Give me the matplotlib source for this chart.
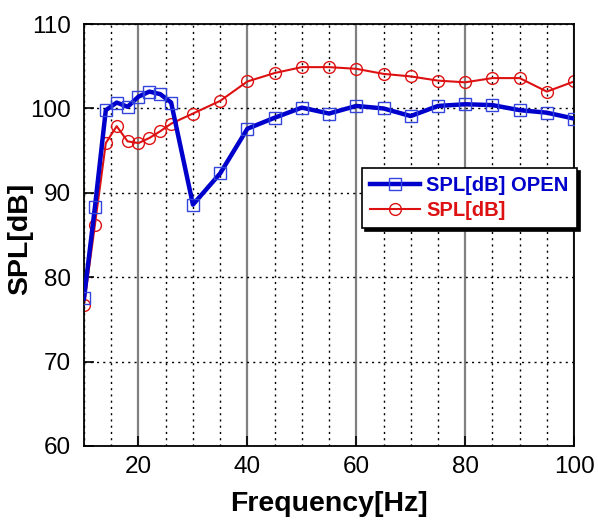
import matplotlib
matplotlib.use("Agg")
import matplotlib.pyplot as plt
from matplotlib.ticker import MultipleLocator

plt.rcParams['font.family'] = ['Liberation Sans', 'DejaVu Sans']

freq = [10, 12, 14, 16, 18, 20, 22, 24, 26, 30, 35, 40, 45, 50, 55, 60, 65, 70, 75, 80, 85, 90, 95, 100]
spl_open = [77.5, 88.3, 99.8, 100.7, 100.2, 101.4, 102.0, 101.7, 100.7, 88.6, 92.3, 97.6, 98.9, 100.1,
            99.4, 100.3, 100.0, 99.1, 100.3, 100.5, 100.4, 99.8, 99.5, 98.8]
spl = [76.7, 86.2, 95.9, 97.9, 96.1, 95.9, 96.5, 97.3, 98.2, 99.4, 100.9, 103.2, 104.2, 104.9,
       104.9, 104.7, 104.1, 103.8, 103.3, 103.1, 103.6, 103.6, 102.0, 103.2]
labels = ['SPL[dB] OPEN', 'SPL[dB]']
blue = '#0000cc'
red = '#dd1111'

fig = plt.figure(figsize=(5.98, 5.24), dpi=100)
ax = fig.add_axes([0.1405, 0.149, 0.8195, 0.805])

ax.set_xlim(10, 100)
ax.set_ylim(60, 110)
ax.xaxis.set_major_locator(MultipleLocator(20))
ax.xaxis.set_minor_locator(MultipleLocator(5))
ax.yaxis.set_major_locator(MultipleLocator(10))

ax.grid(which='major', axis='x', color='#808080', linestyle='-', linewidth=1.6)
ax.grid(which='minor', axis='x', color='black', linestyle=(0, (1.5, 3)), linewidth=1.0)
ax.grid(which='major', axis='y', color='black', linestyle=(0, (1.5, 3)), linewidth=1.0)
ax.set_axisbelow(True)

ax.plot(freq, spl_open, color=blue, linewidth=3.2, marker='s', markersize=8.5,
        markerfacecolor='none', markeredgecolor='#3344dd', markeredgewidth=1.0, label=labels[0], zorder=3)
ax.plot(freq, spl, color=red, linewidth=1.5, marker='o', markersize=8.5,
        markerfacecolor='none', markeredgecolor=red, markeredgewidth=1.0, label=labels[1], zorder=2)

ax.tick_params(axis='both', which='major', direction='in', length=7, width=1.2, labelsize=17.5)
ax.tick_params(axis='y', which='major', pad=9.5)
ax.tick_params(axis='x', which='major', pad=7)
ax.tick_params(axis='both', which='minor', direction='in', length=0)
for s in ax.spines.values():
    s.set_linewidth(1.3)

ax.set_xlabel('Frequency[Hz]', fontsize=20.5, fontweight='bold')
ax.set_ylabel('SPL[dB]', fontsize=20.5, fontweight='bold')
ax.xaxis.set_label_coords(0.5, -0.108)
ax.yaxis.set_label_coords(-0.104, 0.49)

leg = ax.legend(loc='upper left', bbox_to_anchor=(362 / 598, 1 - 168 / 524),
                bbox_transform=fig.transFigure, fontsize=14.5, frameon=True,
                fancybox=False, shadow={'color': 'black', 'alpha': 1.0}, edgecolor='black',
                framealpha=1.0, handlelength=2.5, handletextpad=0.3, borderpad=0.4,
                labelspacing=0.3, borderaxespad=0.0)
leg.get_frame().set_linewidth(1.2)
for t, c in zip(leg.get_texts(), [blue, red]):
    t.set_color(c)
    t.set_fontweight('bold')

fig.savefig('out.png', dpi=100)
